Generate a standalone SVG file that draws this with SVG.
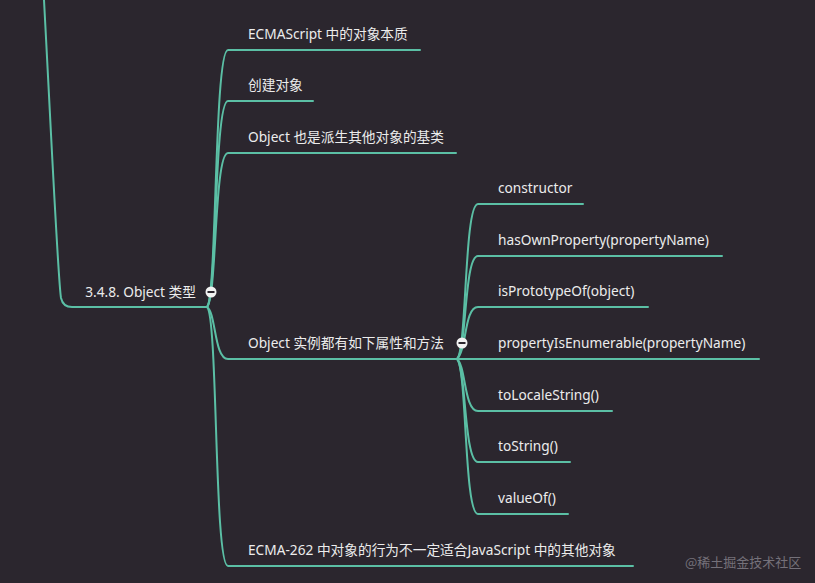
<svg xmlns="http://www.w3.org/2000/svg" width="815" height="583" viewBox="0 0 815 583">
<style>
.bg{fill:#2b262e}
.ln{fill:none;stroke:#5bbfa5;stroke-width:2;stroke-linecap:round}
.t{font-family:"Noto Sans","Noto Sans CJK SC",sans-serif;font-size:13.7px;fill:#ececec}
.wm{font-family:"Noto Sans CJK SC",sans-serif;font-size:13px;fill:#75717a}
.cc{fill:#f2f2f2}
.cm{stroke:#2b262e;stroke-width:2}
</style>
<rect class="bg" width="815" height="583"/>
<g id="connectors">
<path class="ln" d="M44,0 C52,150 58,280 61,298 Q63,307 72,307 L207,307"/>
<path class="ln" d="M207,307 C217,298 214,50 228,50 L420,50"/>
<path class="ln" d="M207,307 C217,298 214,101 228,101 L313,101"/>
<path class="ln" d="M207,307 C217,298 214,153 228,153 L456,153"/>
<path class="ln" d="M207,307 C216,312 214,359 228,359 L460,359"/>
<path class="ln" d="M207,307 C218,316 214,566 228,566 L633,566"/>
<path class="ln" d="M457,359 C467,350 464,204 478,204 L583,204"/>
<path class="ln" d="M457,359 C467,350 464,256 478,256 L722,256"/>
<path class="ln" d="M457,359 C467,350 464,307 478,307 L648,307"/>
<path class="ln" d="M457,359 L759,359"/>
<path class="ln" d="M457,359 C466,366 464,411 478,411 L612,411"/>
<path class="ln" d="M457,359 C466,366 464,462 478,462 L570,462"/>
<path class="ln" d="M457,359 C467,368 464,514 478,514 L568,514"/>
</g>
<g id="root">
<text class="t" x="196" y="297" text-anchor="end">3.4.8. Object 类型</text>
<circle class="cc" cx="211" cy="292" r="5.5"/>
<line class="cm" x1="207.5" y1="292" x2="214.5" y2="292"/>
</g>
<g id="n1"><text class="t" x="248" y="39">ECMAScript 中的对象本质</text></g>
<g id="n2"><text class="t" x="248" y="90">创建对象</text></g>
<g id="n3"><text class="t" x="248" y="142">Object 也是派生其他对象的基类</text></g>
<g id="n4">
<text class="t" x="248" y="348">Object 实例都有如下属性和方法</text>
<circle class="cc" cx="462" cy="343" r="5.5"/>
<line class="cm" x1="458.5" y1="343" x2="465.5" y2="343"/>
</g>
<g id="n5"><text class="t" x="248" y="555">ECMA-262 中对象的行为不一定适合JavaScript 中的其他对象</text></g>
<g id="c1"><text class="t" x="498" y="193">constructor</text></g>
<g id="c2"><text class="t" x="498" y="245">hasOwnProperty(propertyName)</text></g>
<g id="c3"><text class="t" x="498" y="296">isPrototypeOf(object)</text></g>
<g id="c4"><text class="t" x="498" y="348">propertyIsEnumerable(propertyName)</text></g>
<g id="c5"><text class="t" x="498" y="400">toLocaleString()</text></g>
<g id="c6"><text class="t" x="498" y="451">toString()</text></g>
<g id="c7"><text class="t" x="498" y="503">valueOf()</text></g>
<text class="wm" x="685" y="567">@稀土掘金技术社区</text>
</svg>
